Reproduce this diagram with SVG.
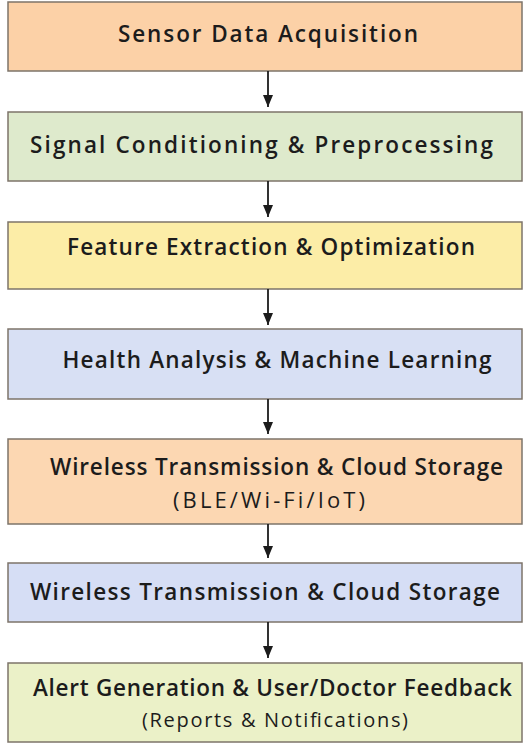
<svg xmlns="http://www.w3.org/2000/svg" width="524" height="743" viewBox="0 0 524 743">
<style>
.box{stroke:#7d746a;stroke-width:1.5}
.t{font-family:"Open Sans","Noto Sans",sans-serif;font-weight:600;font-size:22.5px;fill:#1c1c1c;text-anchor:middle}
.s{font-size:20px;font-weight:500}
.c{stroke:#1c1c1c;stroke-width:1.8;fill:none}
</style>
<defs>
<marker id="ah" markerWidth="12" markerHeight="10" refX="12" refY="5" orient="auto" markerUnits="userSpaceOnUse">
<path d="M0,0 L12,5 L0,10 Z" fill="#1c1c1c"/>
</marker>
</defs>
<rect width="524" height="743" fill="#ffffff"/>
<g id="n1"><rect class="box" x="8" y="2" width="514" height="69" fill="#FCD1A7"/>
<text class="t" x="268" y="42" textLength="300" lengthAdjust="spacing">Sensor Data Acquisition</text></g>
<g id="n2"><rect class="box" x="8" y="112" width="514" height="69" fill="#DEEACC"/>
<text class="t" x="261.5" y="153" textLength="463" lengthAdjust="spacing">Signal Conditioning &amp; Preprocessing</text></g>
<g id="n3"><rect class="box" x="8" y="222" width="514" height="67" fill="#FCEDA7"/>
<text class="t" x="271" y="255" textLength="408" lengthAdjust="spacing">Feature Extraction &amp; Optimization</text></g>
<g id="n4"><rect class="box" x="8" y="329" width="514" height="70" fill="#D8E0F4"/>
<text class="t" x="277" y="368" textLength="429" lengthAdjust="spacing">Health Analysis &amp; Machine Learning</text></g>
<g id="n5"><rect class="box" x="8" y="439" width="514" height="85" fill="#FCD7B2"/>
<text class="t" x="276.5" y="475" textLength="453" lengthAdjust="spacing">Wireless Transmission &amp; Cloud Storage</text>
<text class="t" x="269" y="508" textLength="192" lengthAdjust="spacing" style="font-size:22px;font-weight:500">(BLE/Wi-Fi/IoT)</text></g>
<g id="n6"><rect class="box" x="8" y="563" width="514" height="59" fill="#D6DEF5"/>
<text class="t" x="265" y="600" textLength="470" lengthAdjust="spacing">Wireless Transmission &amp; Cloud Storage</text></g>
<g id="n7"><rect class="box" x="8" y="663" width="514" height="79" fill="#EBF1C8"/>
<text class="t" x="272.5" y="696" textLength="479" lengthAdjust="spacing">Alert Generation &amp; User/Doctor Feedback</text>
<text class="t s" x="275" y="727" textLength="266" lengthAdjust="spacing">(Reports &amp; Notifications)</text></g>
<g id="connectors">
<line class="c" x1="268" y1="71" x2="268" y2="107" marker-end="url(#ah)"/>
<line class="c" x1="268" y1="181" x2="268" y2="217" marker-end="url(#ah)"/>
<line class="c" x1="268" y1="289" x2="268" y2="325" marker-end="url(#ah)"/>
<line class="c" x1="268" y1="399" x2="268" y2="434" marker-end="url(#ah)"/>
<line class="c" x1="268" y1="524" x2="268" y2="558" marker-end="url(#ah)"/>
<line class="c" x1="268" y1="622" x2="268" y2="658" marker-end="url(#ah)"/>
</g>
</svg>
